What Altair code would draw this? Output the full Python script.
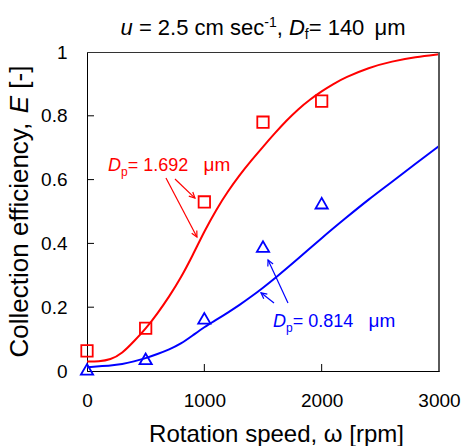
import math
import altair as alt
import pandas as pd

# ---------------- data ----------------
red_curve_rpm = [0, 100, 200, 300, 400, 500, 600, 700, 800, 900, 1000, 1100, 1200, 1300,
                 1400, 1500, 1600, 1700, 1800, 1900, 2000, 2100, 2200, 2400, 2600, 2800, 3000]
red_curve_E = [0.030, 0.030, 0.035, 0.055, 0.093, 0.132, 0.180, 0.233, 0.292, 0.362, 0.438,
               0.505, 0.563, 0.614, 0.660, 0.703, 0.745, 0.785, 0.821, 0.851, 0.877, 0.900,
               0.920, 0.951, 0.971, 0.984, 0.993]
blue_curve_rpm = [0, 200, 300, 400, 500, 600, 700, 800, 900, 1000, 1100, 1200, 1300, 1400,
                  1500, 1600, 1800, 2000, 2200, 2400, 2600, 2800, 3000]
blue_curve_E = [0.012, 0.017, 0.021, 0.030, 0.040, 0.053, 0.067, 0.085, 0.111, 0.138, 0.160,
                0.183, 0.207, 0.233, 0.261, 0.290, 0.352, 0.417, 0.478, 0.538, 0.593, 0.650,
                0.705]
red_pts_rpm = [0, 500, 1000, 1500, 2000]
red_pts_E = [0.063, 0.134, 0.530, 0.780, 0.846]
blue_pts_rpm = [0, 500, 1000, 1500, 2000]
blue_pts_E = [0.005, 0.038, 0.165, 0.390, 0.526]
x_tick_values = [0, 1000, 2000, 3000]
y_tick_values = [0, 0.2, 0.4, 0.6, 0.8, 1.0]
x_inner_ticks = [1000, 2000]
y_inner_ticks = [0.2, 0.4, 0.6, 0.8]

red_arrow_from_rpm = [673, 750]
red_arrow_from_E = [0.605, 0.602]
red_arrow_to_rpm = [937, 920]
red_arrow_to_E = [0.420, 0.542]
blue_arrow_from_rpm = [1713, 1594]
blue_arrow_from_E = [0.213, 0.213]
blue_arrow_to_rpm = [1543, 1483]
blue_arrow_to_E = [0.348, 0.245]

# ---------------- style ----------------
RED = "#FF0000"
BLUE = "#0000FF"
FONT = "Liberation Sans"
W, H = 352, 319
X_DOM = [0, 3000]
Y_DOM = [0, 1]

xs = alt.Scale(domain=X_DOM, nice=False, zero=False)
ys = alt.Scale(domain=Y_DOM, nice=False, zero=False)

# Arial / Liberation Sans advance widths (em)
AW = {' ': 0.278, ',': 0.278, '-': 0.333, '.': 0.278, '=': 0.584, '[': 0.278, ']': 0.278,
      'C': 0.722, 'D': 0.722, 'E': 0.667, 'c': 0.5, 'e': 0.556, 'f': 0.278, 'i': 0.222,
      'l': 0.222, 'm': 0.833, 'n': 0.556, 'o': 0.556, 's': 0.5, 't': 0.278, 'u': 0.556,
      'y': 0.5, 'p': 0.556, 'r': 0.333, 'μ': 0.576}


def tw(text, size):
    return sum(AW.get(ch, 0.556) for ch in text) * size


def frag(text, x, y, size, color="black", italic=False, angle=None):
    kw = dict(align="left", baseline="alphabetic", font=FONT, fontSize=size, color=color)
    if italic:
        kw["fontStyle"] = "italic"
    if angle is not None:
        kw["angle"] = angle
    return alt.Chart(pd.DataFrame({"t": [text]})).mark_text(**kw).encode(
        text="t:N", x=alt.value(x), y=alt.value(y))


def chain(parts, x0, y0, color="black", angle=None):
    """parts: (text, size, italic, dy[, extra_gap]); left-to-right, or upward if angle=270."""
    out = []
    pos = x0
    for text, size, italic, dy, *gap in parts:
        if gap:
            pos += gap[0] if angle is None else -gap[0]
        lead = len(text) - len(text.lstrip())
        shift = tw(text[:lead], size)
        body = text.strip()
        if angle is None:
            out.append(frag(body, pos + shift, y0 + dy, size, color, italic))
            pos += tw(text, size)
        else:
            out.append(frag(body, y0 + dy, pos - shift, size, color, italic, angle))
            pos -= tw(text, size)
    return out


def total_w(parts):
    return sum(tw(p[0], p[1]) + (p[4] if len(p) > 4 else 0) for p in parts)


layers = []

# curves
layers.append(alt.Chart(pd.DataFrame({"rpm": red_curve_rpm, "E": red_curve_E})).mark_line(
    color=RED, strokeWidth=2, interpolate="basis").encode(
    x=alt.X("rpm:Q", scale=xs, axis=alt.Axis(values=x_tick_values, format="d", title="Rotation speed, ω [rpm]")),
    y=alt.Y("E:Q", scale=ys, axis=alt.Axis(values=y_tick_values, format=".1~f", title=None))))
layers.append(alt.Chart(pd.DataFrame({"rpm": blue_curve_rpm, "E": blue_curve_E})).mark_line(
    color=BLUE, strokeWidth=2, interpolate="basis").encode(
    x=alt.X("rpm:Q", scale=xs), y=alt.Y("E:Q", scale=ys)))

# right frame edge (slightly heavier grey, as in the original)
layers.append(alt.Chart(pd.DataFrame({"rpm": [X_DOM[1]]})).mark_rule(color="#5a5a5a", strokeWidth=2).encode(
    x=alt.X("rpm:Q", scale=xs), y=alt.value(0), y2=alt.value(H)))

# measured points
layers.append(alt.Chart(pd.DataFrame({"rpm": red_pts_rpm, "E": red_pts_E})).mark_point(
    shape="square", filled=False, size=130, strokeWidth=1.8, color=RED, opacity=1).encode(
    x=alt.X("rpm:Q", scale=xs), y=alt.Y("E:Q", scale=ys)))
layers.append(alt.Chart(pd.DataFrame({"rpm": blue_pts_rpm, "E": blue_pts_E})).mark_point(
    shape="triangle-up", filled=False, size=150, strokeWidth=1.8, color=BLUE, opacity=1).encode(
    x=alt.X("rpm:Q", scale=xs), y=alt.Y("E:Q", scale=ys)))

# inward ticks
layers.append(alt.Chart(pd.DataFrame({"rpm": x_inner_ticks})).mark_rule(color="black", strokeWidth=1).encode(
    x=alt.X("rpm:Q", scale=xs), y=alt.value(H), y2=alt.value(H - 7)))
layers.append(alt.Chart(pd.DataFrame({"E": y_inner_ticks})).mark_rule(color="black", strokeWidth=1).encode(
    y=alt.Y("E:Q", scale=ys), x=alt.value(0), x2=alt.value(7)))

# arrows
ARROW = "M-0.55,1.1L0,0L0.55,1.1"


def arrows(fr_x, fr_y, to_x, to_y, color):
    angs = []
    for a, b, c, d in zip(fr_x, fr_y, to_x, to_y):
        dxp = (c - a) * W / (X_DOM[1] - X_DOM[0])
        dyp = -(d - b) * H / (Y_DOM[1] - Y_DOM[0])
        angs.append(math.degrees(math.atan2(dxp, -dyp)) % 360)
    df = pd.DataFrame({"x1": fr_x, "y1": fr_y, "x2": to_x, "y2": to_y, "ang": angs})
    line = alt.Chart(df).mark_rule(color=color, strokeWidth=1.2).encode(
        x=alt.X("x1:Q", scale=xs), y=alt.Y("y1:Q", scale=ys), x2="x2:Q", y2="y2:Q")
    head = alt.Chart(df).mark_point(shape=ARROW, filled=False, size=110, strokeWidth=1.2,
                                    color=color, opacity=1).encode(
        x=alt.X("x2:Q", scale=xs), y=alt.Y("y2:Q", scale=ys), angle=alt.Angle("ang:Q", scale=None))
    return [line, head]


layers += arrows(red_arrow_from_rpm, red_arrow_from_E, red_arrow_to_rpm, red_arrow_to_E, RED)
layers += arrows(blue_arrow_from_rpm, blue_arrow_from_E, blue_arrow_to_rpm, blue_arrow_to_E, BLUE)

# annotations
layers += chain([("D", 18, True, 0), ("p", 12, False, 5), ("= 1.692", 18, False, 0),
                 (" μm", 19, False, 0, 10)], 21, 119, RED)
layers += chain([("D", 18, True, 0), ("p", 12, False, 5), ("= 0.814", 18, False, 0),
                 (" μm", 19, False, 0, 10)], 186, 275, BLUE)

# title
title_parts = [("u", 22, True, 0), (" = 2.5 cm sec", 22, False, 0), ("-1", 14, False, -8),
               (", ", 22, False, 0), ("D", 22, True, 0), ("f", 14, False, 4),
               ("= 140", 22, False, 0), (" μm", 22, False, 0, 4)]
layers += chain(title_parts, W / 2 - total_w(title_parts) / 2, -17)

# y-axis title (rotated)
yt_parts = [("Collection efficiency, ", 26, False, 0), ("E", 26, True, 0), (" [-]", 26, False, 0)]
layers += chain(yt_parts, H / 2 + total_w(yt_parts) / 2, -59, angle=270)

chart = alt.layer(*layers).properties(
    width=W, height=H,
    autosize=alt.AutoSizeParams(type="none"),
    padding={"left": 87, "top": 52, "right": 24, "bottom": 75},
    background="white",
).configure_view(stroke="#333333", strokeWidth=1).configure_axis(
    grid=False, ticks=False, domainColor="black", domainWidth=1, labelFlush=False,
    labelFont=FONT, labelFontSize=19, labelColor="black", labelPadding=20,
    titleFont=FONT, titleFontSize=24, titleColor="black", titleFontWeight="normal",
).configure_axisX(titleX=189, titleY=70, titleBaseline="alphabetic", titleAlign="center")

chart.save("out.html", embed_options={"renderer": "svg", "actions": False})
